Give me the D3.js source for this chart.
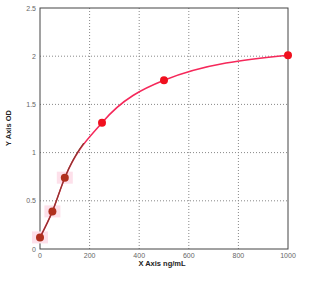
<!DOCTYPE html>
<html>
<head>
<meta charset="utf-8">
<script src="https://cdn.jsdelivr.net/npm/d3@7"></script>
<style>
  body { margin: 0; background: #fff; }
  text { font-family: "Liberation Sans", Arial, sans-serif; }
</style>
</head>
<body>
<svg id="chart" width="322" height="281"></svg>
<script>
// standard curve points
const conc = [0, 50, 100, 250, 500, 1000];
const od = [0.12, 0.39, 0.74, 1.31, 1.75, 2.01];
const xTicks = [0, 200, 400, 600, 800, 1000];
const yTicks = [0, 0.5, 1, 1.5, 2, 2.5];

const svg = d3.select('#chart');
const m = { left: 40, right: 288, top: 8, bottom: 249 };

const x = d3.scaleLinear().domain([0, 1000]).range([m.left, m.right]);
const y = d3.scaleLinear().domain([0, 2.5]).range([m.bottom, m.top]);

// dotted grid
svg.append('g').selectAll('line.vx')
  .data(xTicks.slice(1, -1))
  .enter().append('line')
  .attr('x1', d => x(d)).attr('x2', d => x(d))
  .attr('y1', m.top).attr('y2', m.bottom)
  .attr('stroke', '#888').attr('stroke-width', 1)
  .attr('stroke-dasharray', '1,2');

svg.append('g').selectAll('line.hy')
  .data(yTicks.slice(1, -1))
  .enter().append('line')
  .attr('x1', m.left).attr('x2', m.right)
  .attr('y1', d => y(d)).attr('y2', d => y(d))
  .attr('stroke', '#888').attr('stroke-width', 1)
  .attr('stroke-dasharray', '1,2');

// frame
svg.append('rect')
  .attr('x', m.left).attr('y', m.top)
  .attr('width', m.right - m.left).attr('height', m.bottom - m.top)
  .attr('fill', 'none').attr('stroke', '#444').attr('stroke-width', 1);

// tick labels
svg.append('g').selectAll('text')
  .data(xTicks)
  .enter().append('text')
  .attr('x', d => x(d)).attr('y', m.bottom + 9)
  .attr('text-anchor', 'middle')
  .attr('font-size', 7).attr('fill', '#666')
  .text(d => d);

svg.append('g').selectAll('text')
  .data(yTicks)
  .enter().append('text')
  .attr('x', m.left - 4).attr('y', d => y(d) + 2.5)
  .attr('text-anchor', 'end')
  .attr('font-size', 7).attr('fill', '#666')
  .text(d => d);

// axis titles
svg.append('text')
  .attr('x', 162).attr('y', 266)
  .attr('text-anchor', 'middle')
  .attr('font-size', 7.5).attr('font-weight', 'bold').attr('fill', '#222')
  .text('X Axis ng/mL');

svg.append('text')
  .attr('transform', 'translate(11,128) rotate(-90)')
  .attr('text-anchor', 'middle')
  .attr('font-size', 7.5).attr('font-weight', 'bold').attr('fill', '#222')
  .text('Y Axis OD');

const pts = conc.map((c, i) => ({ c, v: od[i] }));

// pink halo behind lower points
svg.append('g').selectAll('rect')
  .data(pts.filter(d => d.c <= 100))
  .enter().append('rect')
  .attr('x', d => x(d.c) - 8).attr('y', d => y(d.v) - 6)
  .attr('width', 16).attr('height', 12)
  .attr('fill', '#fde0ea');

const line = d3.line()
  .x(d => x(d.c)).y(d => y(d.v))
  .curve(d3.curveMonotoneX);

svg.append('path')
  .datum(pts)
  .attr('d', line)
  .attr('fill', 'none').attr('stroke', '#f5285a').attr('stroke-width', 1.5);

// darker lower segment
svg.append('clipPath').attr('id', 'lowClip')
  .append('rect')
  .attr('x', 0).attr('y', y(1.1)).attr('width', 322).attr('height', 281);

svg.append('path')
  .datum(pts.filter(d => d.c <= 250))
  .attr('d', line)
  .attr('fill', 'none').attr('stroke', '#8a3a2e').attr('stroke-width', 1.2)
  .attr('clip-path', 'url(#lowClip)');

svg.append('g').selectAll('circle')
  .data(pts)
  .enter().append('circle')
  .attr('cx', d => x(d.c)).attr('cy', d => y(d.v))
  .attr('r', 4)
  .attr('fill', d => d.c <= 100 ? '#b0301e' : '#f0101e');
</script>
</body>
</html>
